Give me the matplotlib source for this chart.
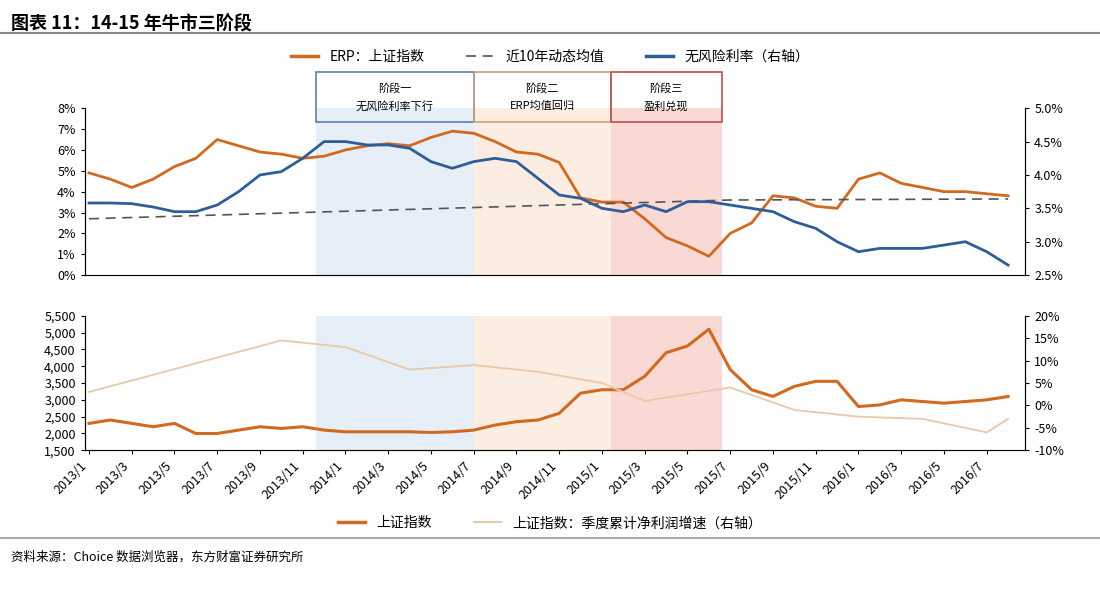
import matplotlib
matplotlib.use("Agg")
import matplotlib.pyplot as plt
from matplotlib.lines import Line2D
import numpy as np

plt.rcParams["font.family"] = ["Noto Sans CJK SC", "DejaVu Sans"]

months = np.arange(44)  # 2013/1 .. 2016/8
tick_labels = ["2013/1","2013/3","2013/5","2013/7","2013/9","2013/11","2014/1","2014/3","2014/5","2014/7",
               "2014/9","2014/11","2015/1","2015/3","2015/5","2015/7","2015/9","2015/11","2016/1","2016/3",
               "2016/5","2016/7"]
erp = [4.9,4.6,4.2,4.6,5.2,5.6,6.5,6.2,5.9,5.8,5.6,5.7,6.0,6.2,6.3,6.2,6.6,6.9,6.8,6.4,5.9,5.8,5.4,3.7,
       3.5,3.5,2.7,1.8,1.4,0.9,2.0,2.5,3.8,3.7,3.3,3.2,4.6,4.9,4.4,4.2,4.0,4.0,3.9,3.8]
erp_mean_x = [0, 30, 43]
erp_mean = [2.7, 3.6, 3.65]
rf = [3.58,3.58,3.57,3.52,3.45,3.45,3.55,3.75,4.0,4.05,4.25,4.5,4.5,4.45,4.45,4.4,4.2,4.1,4.2,4.25,4.2,3.95,
      3.7,3.65,3.5,3.45,3.55,3.45,3.6,3.6,3.55,3.5,3.45,3.3,3.2,3.0,2.85,2.9,2.9,2.9,2.95,3.0,2.85,2.65]
sh = [2300,2400,2300,2200,2300,2000,2000,2100,2200,2150,2200,2100,2050,2050,2050,2050,2030,2050,2100,2250,
      2350,2400,2600,3200,3300,3300,3700,4400,4600,5100,3900,3300,3100,3400,3550,3550,2800,2850,3000,2950,
      2900,2950,3000,3100]
g_x = [0, 9, 12, 15, 18, 21, 24, 26, 30, 33, 36, 39, 42, 43]
growth = [3, 14.5, 13, 8, 9, 7.5, 5, 1, 4, -1, -2.5, -3, -6, -3]

orange = "#D2691E"; blue = "#2E5E9A"; light = "#E8C9A8"
phases = [(10.6, 18, "#DCE8F5", "#5A7FB0"), (18, 24.4, "#FBE6D6", "#C8A080"), (24.4, 29.6, "#F8C9C4", "#C0504D")]
phase_text = ["阶段一\n无风险利率下行", "阶段二\nERP均值回归", "阶段三\n盈利兑现"]

fig = plt.figure(figsize=(11, 5.98), dpi=100)
fig.text(0.01, 0.975, "图表 11：14-15 年牛市三阶段", fontsize=13, fontweight="bold", va="top")
fig.add_artist(Line2D([0, 1], [0.945, 0.945], color="#888888", lw=1.5))
fig.add_artist(Line2D([0, 1], [0.10, 0.10], color="#aaaaaa", lw=1.5))
fig.text(0.01, 0.08, "资料来源：Choice 数据浏览器，东方财富证券研究所", fontsize=9, va="top")

xl = (-0.2, 43.8)
ax1 = fig.add_axes([0.077, 0.54, 0.855, 0.279])
ax2 = ax1.twinx()
for a, b, c, _ in phases:
    ax1.axvspan(a, b, color=c, alpha=0.7, lw=0)
ax1.plot(months, erp, color=orange, lw=2)
ax1.plot(erp_mean_x, erp_mean, color="#555555", lw=1.2, ls=(0, (6, 4)))
ax2.plot(months, rf, color=blue, lw=2)
ax1.set_xlim(xl); ax1.set_ylim(0, 8); ax2.set_ylim(2.5, 5.0)
ax1.set_yticks(range(9)); ax1.set_yticklabels([f"{v}%" for v in range(9)])
ax2.set_yticks([2.5,3.0,3.5,4.0,4.5,5.0]); ax2.set_yticklabels([f"{v:.1f}%" for v in [2.5,3.0,3.5,4.0,4.5,5.0]])
ax1.set_xticks([])
for a in (ax1, ax2):
    for s in ["top"]:
        a.spines[s].set_visible(False)
    a.tick_params(labelsize=9, length=3)
ax1.spines["bottom"].set_color("#999999")

# phase boxes
for (a, b, c, ec), t in zip(phases, phase_text):
    x0 = ax1.transData.transform((a, 0))[0]; x1 = ax1.transData.transform((b, 0))[0]
    fx0 = x0 / 1100; fx1 = x1 / 1100
    fig.add_artist(plt.Rectangle((fx0, 0.796), fx1 - fx0, 0.083, fill=False, ec=ec, lw=1.2))
    fig.text((fx0 + fx1) / 2, 0.8375, t, ha="center", va="center", fontsize=8, linespacing=1.8)

handles = [Line2D([], [], color=orange, lw=2.5), Line2D([], [], color="#555555", lw=1.2, ls=(0, (6, 4))),
           Line2D([], [], color=blue, lw=2.5)]
fig.legend(handles, ["ERP：上证指数", "近10年动态均值", "无风险利率（右轴）"], loc="center",
           bbox_to_anchor=(0.5, 0.905), ncol=3, frameon=False, fontsize=10, columnspacing=3)

ax3 = fig.add_axes([0.077, 0.247, 0.855, 0.225])
ax4 = ax3.twinx()
for a, b, c, _ in phases:
    ax3.axvspan(a, b, color=c, alpha=0.7, lw=0)
ax3.plot(months, sh, color=orange, lw=2.2)
ax4.plot(g_x, growth, color=light, lw=1.3)
ax3.set_xlim(xl); ax3.set_ylim(1500, 5500); ax4.set_ylim(-10, 20)
ax3.set_yticks(range(1500, 5501, 500)); ax3.set_yticklabels([f"{v:,}" for v in range(1500, 5501, 500)])
ax4.set_yticks(range(-10, 21, 5)); ax4.set_yticklabels([f"{v}%" for v in range(-10, 21, 5)])
ax3.set_xticks(range(0, 43, 2)); ax3.set_xticklabels(tick_labels, rotation=45, ha="right", fontsize=9)
for a in (ax3, ax4):
    a.spines["top"].set_visible(False)
    a.tick_params(labelsize=9, length=3)
ax3.spines["bottom"].set_color("#999999")

h2 = [Line2D([], [], color=orange, lw=2.5), Line2D([], [], color=light, lw=1.5)]
fig.legend(h2, ["上证指数", "上证指数：季度累计净利润增速（右轴）"], loc="center",
           bbox_to_anchor=(0.5, 0.125), ncol=2, frameon=False, fontsize=10, columnspacing=3)

fig.savefig("out.png", dpi=100)
